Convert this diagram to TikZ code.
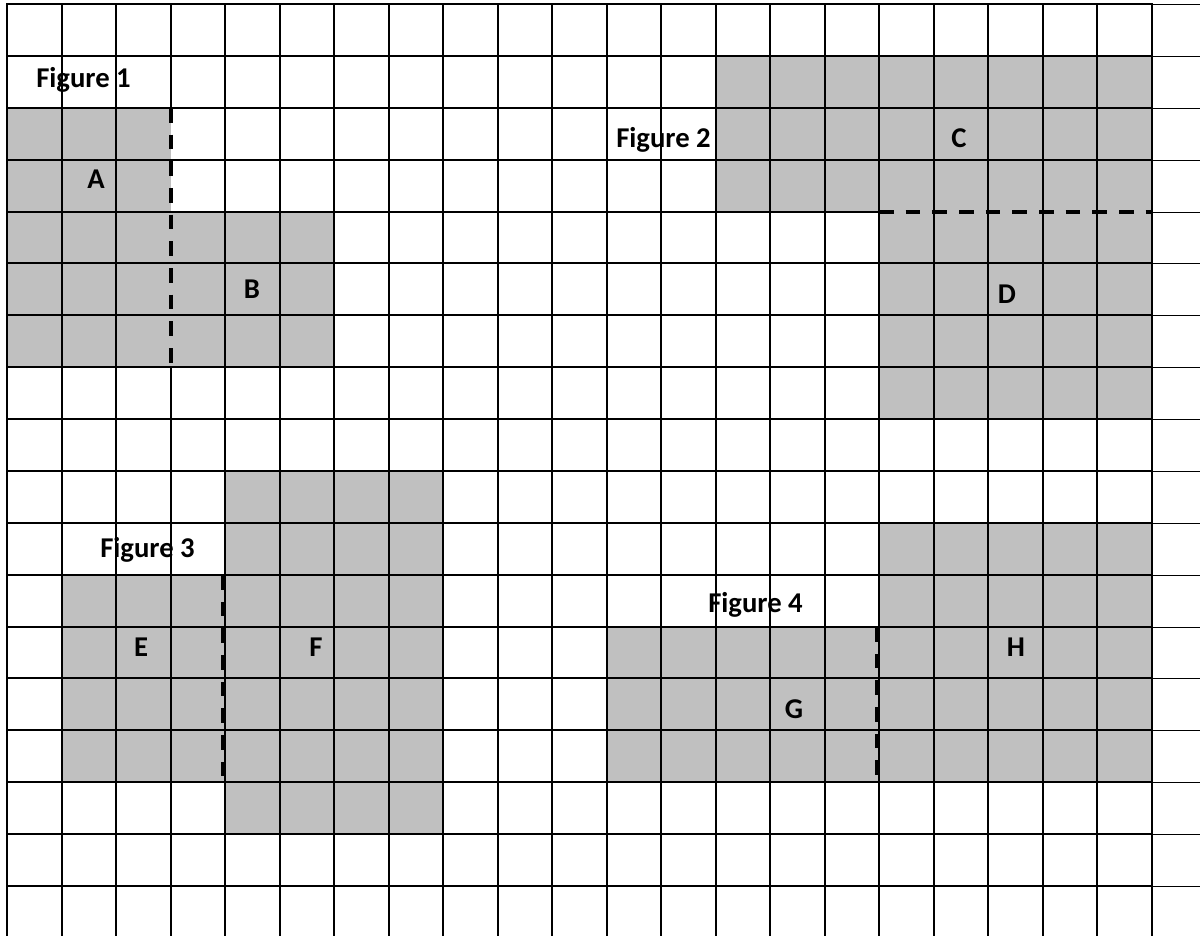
\documentclass[tikz,border=0pt]{standalone}
\usepackage{fontspec}
\setmainfont{Carlito}
\definecolor{cellgray}{RGB}{192,192,192}
\begin{document}
\begin{tikzpicture}[x=0.75pt,y=-0.75pt,
  grid/.style={black,line width=1.5pt},
  thin grid/.style={black,line width=0.75pt},
  cut/.style={black,line width=2.6pt,dash pattern=on 11pt off 9pt},
  lbl/.style={font=\fontsize{21.5}{26}\selectfont\bfseries,inner sep=0pt,anchor=base},
  fig/.style={font=\fontsize{21.5}{26}\selectfont\bfseries,inner sep=0pt,anchor=base west}]
\def\cx#1{round(7+54.52*#1)}
\def\ry#1{round(4+51.88*#1)}
\fill[white] (0,0) rectangle (1200,936);
\useasboundingbox (0,0) rectangle (1200,936);
% shaded regions
\fill[cellgray] ({\cx{0}},{\ry{2}}) rectangle ({\cx{3}},{\ry{7}}); % A
\fill[cellgray] ({\cx{3}},{\ry{4}}) rectangle ({\cx{6}},{\ry{7}}); % B
\fill[cellgray] ({\cx{13}},{\ry{1}}) rectangle ({\cx{21}},{\ry{4}}); % C
\fill[cellgray] ({\cx{16}},{\ry{4}}) rectangle ({\cx{21}},{\ry{8}}); % D
\fill[cellgray] ({\cx{1}},{\ry{11}}) rectangle ({\cx{4}},{\ry{15}}); % E
\fill[cellgray] ({\cx{4}},{\ry{9}}) rectangle ({\cx{8}},{\ry{16}}); % F
\fill[cellgray] ({\cx{11}},{\ry{12}}) rectangle ({\cx{16}},{\ry{15}}); % G
\fill[cellgray] ({\cx{16}},{\ry{10}}) rectangle ({\cx{21}},{\ry{15}}); % H
% grid: vertical lines
\foreach \i in {0,1,2,4,5,...,21} {
  \draw[grid] ({\cx{\i}},3) -- ({\cx{\i}},936);
}
\draw[grid] ({\cx{3}},3) -- ({\cx{3}},{\ry{2}});
\draw[grid] ({\cx{3}},{\ry{7}}) -- ({\cx{3}},936);
% grid: horizontal lines
\foreach \j in {0,1,2,3,5,6,...,17} {
  \draw[grid] (6,{\ry{\j}}) -- ({\cx{21}},{\ry{\j}});
  \draw[thin grid] ({\cx{21}},{\ry{\j}}) -- (1200,{\ry{\j}});
}
\draw[grid] (6,{\ry{4}}) -- ({\cx{16}},{\ry{4}});
\draw[thin grid] ({\cx{21}},{\ry{4}}) -- (1200,{\ry{4}});
% cut lines
\draw[cut] ({\cx{3}},{\ry{2}}) -- ({\cx{3}},{\ry{7}});
\draw[cut] ({\cx{16}},{\ry{4}}) -- ({\cx{21}},{\ry{4}});
\draw[cut] ({\cx{4}-2},{\ry{11}}) -- ({\cx{4}-2},{\ry{15}});
\draw[cut] ({\cx{16}-2},{\ry{12}}) -- ({\cx{16}-2},{\ry{15}});
% labels
\node[fig] (f1) at (36,87) {Figure 1};
\node[fig] (f2) at (616,147) {Figure 2};
\node[fig] (f3) at (100,557) {Figure 3};
\node[fig] (f4) at (708,612) {Figure 4};
\node[lbl] (a) at (96,188) {A};
\node[lbl] (b) at (252,298) {B};
\node[lbl] (c) at (959,147) {C};
\node[lbl] (d) at (1007,303) {D};
\node[lbl] (e) at (141,656) {E};
\node[lbl] (f) at (316,656) {F};
\node[lbl] (g) at (794,718) {G};
\node[lbl] (h) at (1016,656) {H};
\end{tikzpicture}
\end{document}
